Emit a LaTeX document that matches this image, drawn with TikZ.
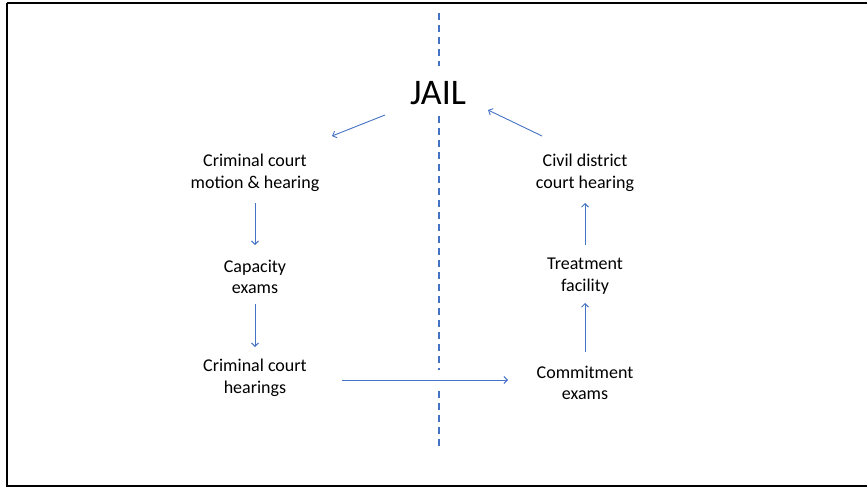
\documentclass[tikz,border=0pt]{standalone}
\usepackage{fontspec}
\setmainfont{Carlito}
\usetikzlibrary{arrows.meta}
\definecolor{offblue}{HTML}{4472C4}
\tikzset{
  lbl/.style={align=center, font=\fontsize{18}{21.6}\selectfont, inner sep=0pt},
  arr/.style={draw=offblue, line width=0.9pt, -{Straight Barb[length=3.5pt,width=7pt]}},
  divider/.style={draw=offblue, line width=2pt, dash pattern=on 6.5pt off 5.5pt}
}
\begin{document}
\begin{tikzpicture}[x=1pt,y=-1pt]
\useasboundingbox (0,0) rectangle (867,490);
\draw[line width=2.6pt] (7,3) -- (875,3) (7,3) -- (7,486) -- (875,486);
% divider (interrupted behind JAIL and at the horizontal arrow)
\coordinate (d1) at (439,13);
\coordinate (d2) at (439,66);
\coordinate (d3) at (439,116);
\coordinate (d4) at (439,370);
\coordinate (d5) at (439,391);
\coordinate (d6) at (439,449);
\draw[divider] (d1) -- (d2);
\draw[divider] (d3) -- (d4);
\draw[divider] (d5) -- (d6);
% nodes
\node[lbl, font=\fontsize{36}{43}\selectfont] (jail) at (438,93) {JAIL};
\node[lbl] (n1) at (255,173) {Criminal court\\motion \& hearing};
\node[lbl] (n2) at (255,277) {Capacity\\exams};
\node[lbl] (n3) at (255,378) {Criminal court\\hearings};
\node[lbl] (m1) at (585,173) {Civil district\\court hearing};
\node[lbl] (m2) at (585,276) {Treatment\\facility};
\node[lbl] (m3) at (585,383) {Commitment\\exams};
% connector ends
\coordinate (j1) at (385,115);
\coordinate (n1t) at (332,136);
\coordinate (n1b) at (255,203);
\coordinate (n2t) at (255,245);
\coordinate (n2b) at (255,304);
\coordinate (n3t) at (255,347);
\coordinate (n3r) at (342,380);
\coordinate (m3l) at (508,380);
\coordinate (m3t) at (585,352);
\coordinate (m2b) at (585,303);
\coordinate (m2t) at (585,245);
\coordinate (m1b) at (585,203);
\coordinate (m1t) at (542,136);
\coordinate (j2) at (488,110);
\draw[arr] (j1) -- (n1t);
\draw[arr] (n1b) -- (n2t);
\draw[arr] (n2b) -- (n3t);
\draw[arr] (n3r) -- (m3l);
\draw[arr] (m3t) -- (m2b);
\draw[arr] (m2t) -- (m1b);
\draw[arr] (m1t) -- (j2);
\end{tikzpicture}
\end{document}
